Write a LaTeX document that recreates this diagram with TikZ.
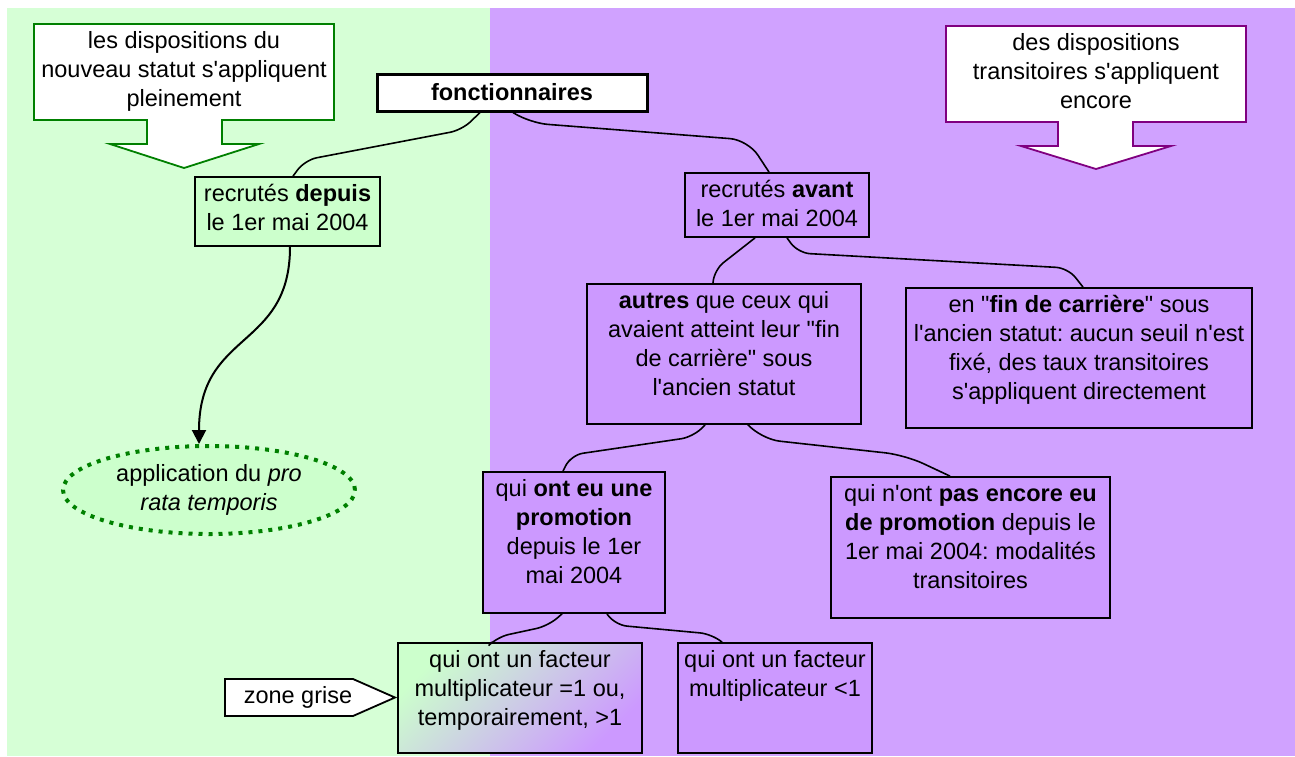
\documentclass[tikz,border=0pt]{standalone}
\usepackage{fontspec}
\setmainfont{Liberation Sans}
\usetikzlibrary{arrows.meta,calc,shapes.geometric}
\definecolor{bggreen}{HTML}{D6FFD6}
\definecolor{bgpurple}{HTML}{D0A2FF}
\definecolor{boxgreen}{HTML}{CCFFCC}
\definecolor{boxpurple}{HTML}{CC99FF}
\definecolor{dkgreen}{HTML}{008000}
\definecolor{dkpurple}{HTML}{800080}
\newcommand{\ap}{\textquotesingle}
\newcommand{\qq}{\textquotedbl}
\frenchspacing
\newcommand{\bxt}[3]{\parbox[c][\dimexpr #2pt/2\relax][t]{\dimexpr #1pt/2\relax}{\centering\frenchspacing\rule{0pt}{12pt}#3}}
\tikzset{
  txt/.style={font=\fontsize{11.75}{14.5}\selectfont, inner sep=0pt},
  gbox/.style={txt, draw=black, line width=0.9pt, fill=boxgreen},
  pbox/.style={txt, draw=black, line width=0.9pt, fill=boxpurple},
  conn/.style={line width=0.8pt, rounded corners=6pt},
  callout/.style={line width=0.9pt, fill=white},
}
\begin{document}
\begin{tikzpicture}[x=0.5pt, y=-0.5pt]
\useasboundingbox (0,0) rectangle (1295,756);
\fill[white] (0,0) rectangle (1295,756);
\fill[bggreen] (7,8) rectangle (490,756);
\fill[bgpurple] (490,8) rectangle (1295,756);

% callouts
\draw[callout, draw=dkgreen] (34,24) -- (334,24) -- (334,120) -- (222,120) -- (222,144) -- (259,144) -- (184,168) -- (110,144) -- (147,144) -- (147,120) -- (34,120) -- cycle;
\node[txt] (callG) at (184,72) {\bxt{300}{96}{les dispositions du\\nouveau statut s\ap appliquent\\pleinement}};
\draw[callout, draw=dkpurple] (946,26) -- (1246,26) -- (1246,122) -- (1133,122) -- (1133,146) -- (1171,146) -- (1096,169) -- (1021,146) -- (1058,146) -- (1058,122) -- (946,122) -- cycle;
\node[txt] (callP) at (1096,74) {\bxt{300}{96}{des dispositions\\transitoires s\ap appliquent\\encore}};

% boxes
\node[txt, draw=black, line width=1.5pt, fill=white, minimum width=135pt, minimum height=18.5pt, font=\fontsize{11.75}{14.5}\selectfont\bfseries] (fonct) at (512,92.5) {fonctionnaires};
\node[gbox] (depuis) at (287.5,211.5) {\bxt{185}{69}{recrutés \textbf{depuis}\\le 1er mai 2004}};
\node[pbox] (avant) at (777,205) {\bxt{184}{64}{recrutés \textbf{avant}\\le 1er mai 2004}};
\node[pbox] (autres) at (724,354) {\bxt{274}{140}{\textbf{autres} que ceux qui\\avaient atteint leur \qq fin\\de carrière\qq{} sous\\l\ap ancien statut}};
\node[pbox] (fin) at (1079,358) {\bxt{346}{140}{en \qq\textbf{fin de carrière}\qq{} sous\\l\ap ancien statut: aucun seuil n\ap est\\fixé, des taux transitoires\\s\ap appliquent directement}};
\node[pbox] (promo) at (574,542.5) {\bxt{182}{141}{qui \textbf{ont eu une}\\\textbf{promotion}\\depuis le 1er\\mai 2004}};
\node[pbox] (pasenc) at (970.5,547.5) {\bxt{279}{141}{qui n\ap ont \textbf{pas encore eu}\\\textbf{de promotion} depuis le\\1er mai 2004: modalités\\transitoires}};
\node[txt, draw=black, line width=0.9pt, top color=boxgreen, bottom color=boxpurple, shading angle=45] (f1) at (520,698) {\bxt{244}{110}{qui ont un facteur\\multiplicateur =1 ou,\\temporairement, >1}};
\node[pbox] (f2) at (775,698) {\bxt{194}{110}{qui ont un facteur\\multiplicateur <1}};

% ellipse
\node[txt, ellipse, draw=dkgreen, line width=2pt, dash pattern=on 2pt off 3pt, fill=boxgreen, minimum width=146pt, minimum height=44pt, align=center] (ell) at (209,490) {application du \textit{pro}\\\textit{rata temporis}};

% zone grise
\draw[callout, draw=black] (225,679) -- (353,679) -- (395,697.5) -- (353,716) -- (225,716) -- cycle;
\node[txt] (zg) at (298,697.5) {zone grise};

% connectors
\draw[conn] ($(fonct.south)+(-32,0)$) -- (462,130) -- (305,160) -- ($(depuis.north)+(5.5,0)$);
\draw[conn, rounded corners=9pt] ($(fonct.south)+(1,0)$) -- (530,123) -- (748,140) -- ($(avant.north)+(-8,0)$);
\draw[conn] ($(avant.south)+(-22,0)$) -- (714,270) -- ($(autres.north)+(-11,0)$);
\draw[conn] ($(avant.south)+(10,0)$) -- (798,253) -- (1068,268) -- ($(fin.north)+(4,0)$);
\draw[conn] ($(autres.south)+(-19,0)$) -- (693,437) -- (571,455) -- ($(promo.north)+(-11,0)$);
\draw[conn, rounded corners=10pt] ($(autres.south)+(24,0)$) -- (760,439) -- (905,455) -- ($(pasenc.north)+(-20.5,0)$);
\draw[conn] ($(promo.south)+(-12,0)$) -- (548,626) -- (497,637) -- ($(f1.north)+(-28,0)$);
\draw[conn] ($(promo.south)+(33,0)$) -- (615,625) -- (712,634) -- ($(f2.north)+(-53,0)$);
\draw[line width=1pt, -{Triangle[length=7pt,width=7pt]}] ($(depuis.south)+(2.5,0)$) .. controls (290,350) and (199,330) .. ($(ell.north)+(-10,0)$);
\end{tikzpicture}
\end{document}
